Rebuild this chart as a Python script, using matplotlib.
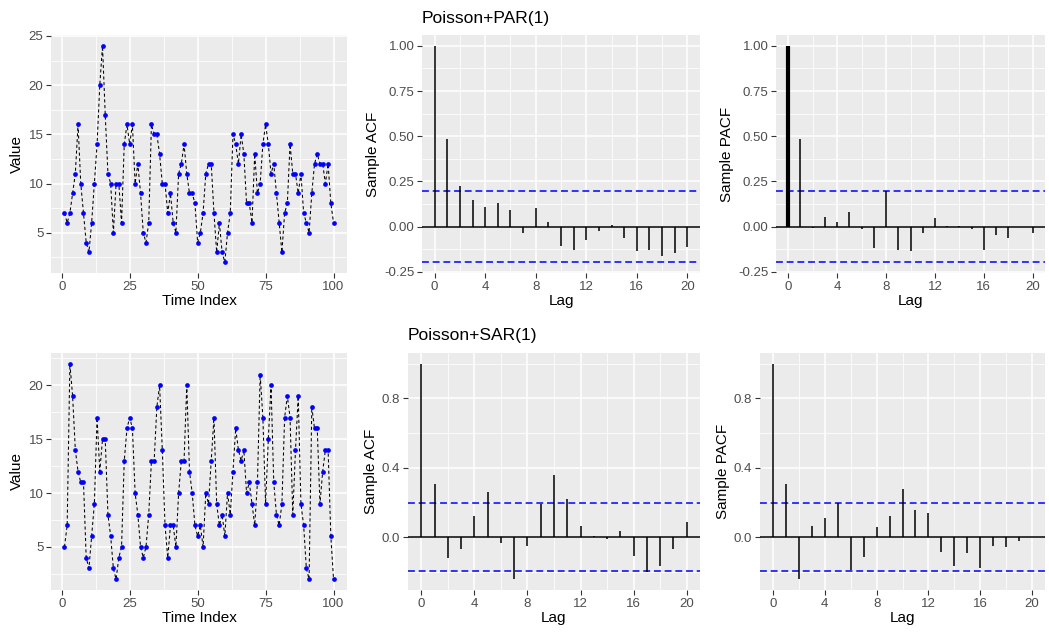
import numpy as np
import matplotlib
matplotlib.use("Agg")
import matplotlib.pyplot as plt
from matplotlib.ticker import FixedLocator

plt.rcParams['font.family'] = ['Liberation Sans', 'DejaVu Sans']

# time index 1..100
t = list(range(1, 101))

# Poisson+PAR(1) series
y_par = [7, 6, 7, 9, 11, 16, 10, 7, 4, 3, 6, 10, 14, 20, 24, 17, 11, 10, 5, 10,
         10, 6, 14, 16, 14, 16, 10, 12, 9, 5, 4, 6, 16, 15, 15, 13, 10, 10, 7, 9,
         6, 5, 11, 12, 14, 11, 9, 9, 8, 4, 5, 7, 11, 12, 12, 7, 3, 6, 3, 2,
         5, 7, 15, 14, 12, 15, 13, 8, 8, 6, 13, 9, 10, 14, 16, 14, 11, 12, 9, 6,
         3, 7, 8, 14, 11, 11, 9, 11, 7, 6, 5, 9, 12, 13, 12, 12, 10, 12, 8, 6]

# Poisson+SAR(1) series
y_sar = [5, 7, 22, 19, 14, 12, 11, 11, 4, 3, 6, 9, 17, 12, 15, 15, 8, 6, 3, 2,
         4, 5, 13, 16, 17, 16, 10, 8, 5, 4, 5, 8, 13, 13, 18, 20, 14, 7, 4, 7,
         7, 5, 10, 13, 13, 20, 12, 10, 7, 6, 7, 5, 10, 9, 13, 17, 9, 7, 8, 6,
         10, 8, 12, 16, 14, 13, 14, 10, 11, 9, 7, 11, 21, 17, 9, 15, 20, 11, 8, 7,
         9, 17, 19, 17, 8, 14, 19, 9, 7, 3, 2, 18, 16, 16, 9, 12, 14, 14, 6, 2]

lags = list(range(0, 21))

acf_par = [1.0, 0.483, 0.227, 0.149, 0.110, 0.132, 0.093, -0.032, 0.106, 0.028, -0.106,
           -0.128, -0.074, -0.024, 0.009, -0.065, -0.134, -0.128, -0.160, -0.147, -0.113]
pacf_par = [1.0, 0.485, -0.006, 0.054, 0.024, 0.080, -0.015, -0.115, 0.199, -0.130, -0.136,
            -0.032, 0.050, 0.004, 0.002, -0.015, -0.126, -0.045, -0.065, -0.002, -0.032]
acf_sar = [1.0, 0.308, -0.123, -0.066, 0.120, 0.258, -0.033, -0.243, -0.052, 0.189, 0.359,
           0.220, 0.062, 0.008, -0.010, 0.037, -0.108, -0.204, -0.166, -0.067, 0.089]
pacf_sar = [1.0, 0.307, -0.243, 0.062, 0.108, 0.195, -0.191, -0.114, 0.058, 0.120, 0.276,
            0.154, 0.139, -0.087, -0.166, -0.093, -0.177, -0.054, -0.058, -0.025, 0.001]

ci = 1.96 / np.sqrt(100)

W, H = 1049, 632
fig = plt.figure(figsize=(W / 100, H / 100), dpi=100)


def ax_at(l, t_, r, b):
    return fig.add_axes([l / W, 1 - b / H, (r - l) / W, (b - t_) / H])


def expand(lo, hi):
    d = (hi - lo) * 0.05
    return lo - d, hi + d


def gg_style(ax, xmaj, xmin, ymaj, ymin, yfmt):
    ax.set_facecolor('#EBEBEB')
    for s in ax.spines.values():
        s.set_visible(False)
    ax.xaxis.set_major_locator(FixedLocator(xmaj))
    ax.xaxis.set_minor_locator(FixedLocator(xmin))
    ax.yaxis.set_major_locator(FixedLocator(ymaj))
    ax.yaxis.set_minor_locator(FixedLocator(ymin))
    ax.set_yticklabels([yfmt.format(v) for v in ymaj])
    ax.grid(which='major', color='white', lw=1.1)
    ax.grid(which='minor', color='white', lw=0.55)
    ax.set_axisbelow(True)
    ax.tick_params(which='major', length=3.5, width=0.8, color='#333333',
                   labelcolor='#4D4D4D', labelsize=9.5, pad=2)
    ax.tick_params(which='minor', length=0)


def ts_panel(ax, y, ymaj, ymin):
    ax.plot(t, y, color='black', lw=0.75, ls=(0, (3, 2.5)), zorder=2)
    ax.plot(t, y, 'o', color='blue', ms=3.4, zorder=3, markeredgewidth=0)
    ax.set_xlim(*expand(1, 100))
    ax.set_ylim(*expand(min(y), max(y)))
    gg_style(ax, [0, 25, 50, 75, 100], [12.5, 37.5, 62.5, 87.5], ymaj, ymin, '{:g}')
    ax.set_xlabel('Time Index', fontsize=11, labelpad=1)
    ax.set_ylabel('Value', fontsize=11, labelpad=3)


def cf_panel(ax, vals, ylab, ymaj, ymin, yfmt, thick0=False):
    ax.axhline(0, color='black', lw=1.1, zorder=2)
    for i, (lag, v) in enumerate(zip(lags, vals)):
        w = 3.0 if (thick0 and i == 0) else 1.1
        ax.plot([lag, lag], [0, v], color='black', lw=w, solid_capstyle='butt', zorder=3)
    ax.axhline(ci, color='blue', lw=1.1, ls=(0, (4.5, 2.5)), zorder=2)
    ax.axhline(-ci, color='blue', lw=1.1, ls=(0, (4.5, 2.5)), zorder=2)
    ax.set_xlim(*expand(0, 20))
    ax.set_ylim(*expand(min(min(vals), -ci), max(max(vals), ci)))
    gg_style(ax, [0, 4, 8, 12, 16, 20], [2, 6, 10, 14, 18], ymaj, ymin, yfmt)
    ax.set_xlabel('Lag', fontsize=11, labelpad=1)
    ax.set_ylabel(ylab, fontsize=11, labelpad=3)


top_maj = [-0.25, 0, 0.25, 0.5, 0.75, 1.0]
top_min = [-0.125, 0.125, 0.375, 0.625, 0.875]
bot_maj = [0, 0.4, 0.8]
bot_min = [-0.2, 0.2, 0.6, 1.0]

ax1 = ax_at(51, 35, 347, 273)
ts_panel(ax1, y_par, [5, 10, 15, 20, 25], [2.5, 7.5, 12.5, 17.5, 22.5])
ax2 = ax_at(422, 35, 700, 273)
cf_panel(ax2, acf_par, 'Sample ACF', top_maj, top_min, '{:.2f}')
ax3 = ax_at(776, 35, 1045, 273)
cf_panel(ax3, pacf_par, 'Sample PACF', top_maj, top_min, '{:.2f}', thick0=True)

ax4 = ax_at(51, 353, 347, 590)
ts_panel(ax4, y_sar, [5, 10, 15, 20], [2.5, 7.5, 12.5, 17.5, 22.5])
ax5 = ax_at(408, 353, 700, 590)
cf_panel(ax5, acf_sar, 'Sample ACF', bot_maj, bot_min, '{:.1f}')
ax6 = ax_at(760, 353, 1045, 590)
cf_panel(ax6, pacf_sar, 'Sample PACF', bot_maj, bot_min, '{:.1f}')

fig.text(422 / W, 1 - 18 / H, 'Poisson+PAR(1)', fontsize=12.5, va='center', ha='left')
fig.text(408 / W, 1 - 335 / H, 'Poisson+SAR(1)', fontsize=12.5, va='center', ha='left')

fig.savefig('out.png', dpi=100)
